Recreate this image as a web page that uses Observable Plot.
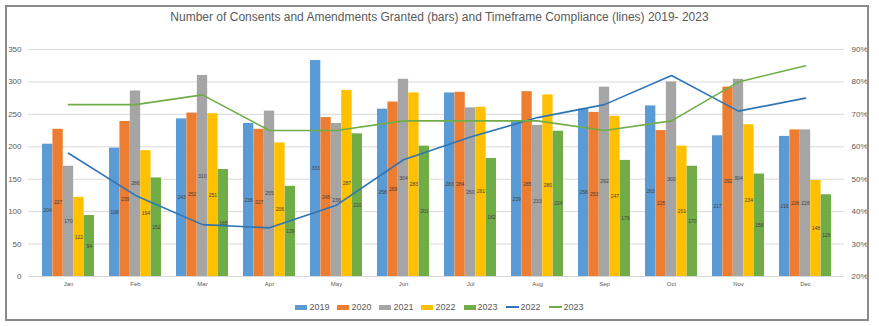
<!DOCTYPE html>
<html>
<head>
<meta charset="utf-8">
<script src="https://cdn.jsdelivr.net/npm/d3@7"></script>
<script src="https://cdn.jsdelivr.net/npm/@observablehq/plot@0.6"></script>
<style>
  html, body { margin: 0; padding: 0; background: #fff; }
  #wrap { position: relative; width: 879px; height: 326px; overflow: hidden; font-family: "Liberation Sans Narrow", "Liberation Sans", sans-serif; }
  #frame { position: absolute; left: 5px; top: 5px; width: 860px; height: 312px; border: 2px solid #8a8a8a; pointer-events: none; }
  #title { position: absolute; left: 0; top: 10px; width: 879px; text-align: center; font-size: 12px; color: #595959; }
  #chart { position: absolute; left: 0; top: 35px; }
  #legend { position: absolute; left: 0; top: 302px; width: 879px; display: flex; justify-content: center; gap: 8px; font-size: 9px; color: #595959; font-family: "Liberation Sans", sans-serif; }
  .item { display: flex; align-items: center; gap: 2px; }
  .sw { width: 12px; height: 5px; display: inline-block; }
  .ln { width: 13px; height: 2px; display: inline-block; }
</style>
</head>
<body>
<div id="wrap">
  <div id="title">Number of Consents and Amendments Granted (bars) and Timeframe Compliance (lines) 2019- 2023</div>
  <div id="chart"></div>
  <div id="legend"></div>
  <div id="frame"></div>
</div>
<script>
const months = ["Jan","Feb","Mar","Apr","May","Jun","Jul","Aug","Sep","Oct","Nov","Dec"];
const years = ["2019","2020","2021","2022","2023"];
const barColors = ["#5B9BD5","#ED7D31","#A5A5A5","#FFC000","#70AD47"];
const v2019 = [204,198,243,236,333,258,283,239,258,263,217,216];
const v2020 = [227,239,252,227,245,269,284,285,253,225,292,226];
const v2021 = [170,286,310,255,236,304,260,233,292,300,304,226];
const v2022 = [122,194,251,206,287,283,261,280,247,201,234,148];
const v2023 = [94,152,165,139,220,201,182,224,179,170,158,126];
const comp2022 = [58,45,36,35,42,56,63,69,73,82,71,75];
const comp2023 = [73,73,76,65,65,68,68,68,65,68,80,85];
const lineColors = {"2022": "#2E75B6", "2023": "#70AD47"};
const leftTicks = [0,50,100,150,200,250,300,350];

const series = [v2019, v2020, v2021, v2022, v2023];

const W = 879, mL = 28, mR = 35;
const xPad = 0.23, xOuter = 0.145;
const bw = d3.scaleBand().domain(months).range([mL, W - mR]).paddingInner(xPad).paddingOuter(xOuter).bandwidth();
const slot = bw / 5;

const marks = [
  Plot.gridY(leftTicks, {stroke: "#d9d9d9", strokeOpacity: 1, strokeWidth: 1}),
];
series.forEach((vals, i) => {
  const data = months.map((m, j) => ({month: m, value: vals[j]}));
  marks.push(Plot.barY(data, {x: "month", y: "value", fill: barColors[i], insetLeft: i * slot, insetRight: (4 - i) * slot}));
  marks.push(Plot.text(data, {x: "month", y: d => d.value / 2, text: d => String(d.value), dx: (i - 2) * slot, fontSize: 5, fill: "#404040"}));
});
marks.push(Plot.ruleY([0], {stroke: "#d9d9d9"}));
[["2022", comp2022], ["2023", comp2023]].forEach(([yr, vals]) => {
  const data = months.map((m, j) => ({month: m, p: vals[j]}));
  marks.push(Plot.line(data, {x: "month", y: d => (d.p - 20) * 5, stroke: lineColors[yr], strokeWidth: 1.6}));
});
marks.push(Plot.axisY(leftTicks, {anchor: "left", tickSize: 0, tickPadding: 7, fontSize: 8, color: "#595959"}));
marks.push(Plot.axisY(leftTicks, {anchor: "right", tickSize: 0, tickPadding: 7, fontSize: 8, color: "#595959", tickFormat: d => (20 + d / 5) + "%"}));
marks.push(Plot.axisX({tickSize: 0, tickPadding: 5, fontSize: 6, color: "#595959"}));

const plot = Plot.plot({
  width: W,
  height: 257,
  marginLeft: mL,
  marginRight: mR,
  marginTop: 14,
  marginBottom: 16,
  style: {background: "transparent", fontFamily: "Liberation Sans, sans-serif", color: "#595959"},
  x: {type: "band", domain: months, paddingInner: xPad, paddingOuter: xOuter, label: null},
  y: {domain: [0, 350], label: null},
  marks
});
document.getElementById("chart").appendChild(plot);

const legend = document.getElementById("legend");
years.forEach((y, i) => {
  const it = document.createElement("div");
  it.className = "item";
  it.innerHTML = `<span class="sw" style="background:${barColors[i]}"></span><span>${y}</span>`;
  legend.appendChild(it);
});
["2022","2023"].forEach(y => {
  const it = document.createElement("div");
  it.className = "item";
  it.innerHTML = `<span class="ln" style="background:${lineColors[y]}"></span><span>${y}</span>`;
  legend.appendChild(it);
});
</script>
</body>
</html>
